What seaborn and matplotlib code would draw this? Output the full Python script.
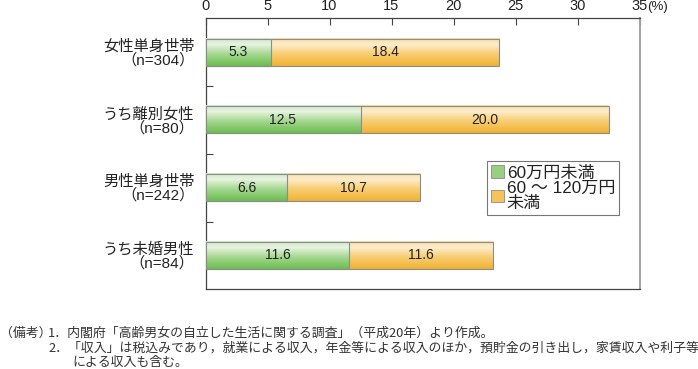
import numpy as np
import pandas as pd
import matplotlib
matplotlib.use("Agg")
import matplotlib.pyplot as plt
import seaborn as sns
from matplotlib.colors import LinearSegmentedColormap
from matplotlib.patches import Patch

# ---- data ----
groups = ["女性単身世帯", "うち離別女性", "男性単身世帯", "うち未婚男性"]
ns = ["304", "80", "242", "84"]
under60 = [5.3, 12.5, 6.6, 11.6]
from60to120 = [18.4, 20.0, 10.7, 11.6]
series_names = ["60万円未満", "60 ～ 120万円\n未満"]
xticks = [0, 5, 10, 15, 20, 25, 30, 35]
notes = [
    "（備考）",
    "1．内閣府「高齢男女の自立した生活に関する調査」（平成20年）より作成。",
    "2．「収入」は税込みであり，就業による収入，年金等による収入のほか，預貯金の引き出し，家賃収入や利子等",
    "による収入も含む。",
]

labels = [f"{g}\n（n={n}）" for g, n in zip(groups, ns)]
df = pd.DataFrame({
    "label": labels,
    "lo": under60,
    "total": [a + b for a, b in zip(under60, from60to120)],
})

sns.set_theme(style="white")
plt.rcParams["font.family"] = ["Liberation Sans", "Noto Sans CJK JP", "DejaVu Sans"]

fig = plt.figure(figsize=(6.98, 3.69), dpi=100)
ax = fig.add_axes([205.5 / 698, 1 - 289.3 / 369, (639.5 - 205.5) / 698, (289.3 - 18.3) / 369])

orange_mid = "#f6c25a"
green_mid = "#98d07f"
sns.barplot(data=df, x="total", y="label", orient="h", color=orange_mid, width=0.4,
            ax=ax, saturation=1)
n_or = len(ax.patches)
sns.barplot(data=df, x="lo", y="label", orient="h", color=green_mid, width=0.4,
            ax=ax, saturation=1)

green_cmap = LinearSegmentedColormap.from_list(
    "g", [(0, "#cfe7c3"), (0.22, "#e8f4e2"), (0.55, "#a9d994"), (1.0, "#6cbd50")])
orange_cmap = LinearSegmentedColormap.from_list(
    "o", [(0, "#f9dca3"), (0.22, "#fdedcd"), (0.55, "#f8cf77"), (1.0, "#f1b232")])
grad = np.linspace(0, 1, 64).reshape(-1, 1)

for i, p in enumerate(list(ax.patches)):
    x0, y0 = p.get_x(), p.get_y()
    w, h = p.get_width(), p.get_height()
    cmap = orange_cmap if i < n_or else green_cmap
    base = 2 if i < n_or else 4
    ax.imshow(grad, cmap=cmap, aspect="auto", extent=[x0, x0 + w, y0 + h, y0],
              zorder=base, interpolation="bilinear")
    p.set_facecolor("none")
    p.set_edgecolor("#8c8c8c")
    p.set_linewidth(0.8)
    p.set_zorder(base + 0.5)

# value labels
for i, (lo, hi) in enumerate(zip(under60, from60to120)):
    ax.text(lo / 2, i, f"{lo:.1f}", ha="center", va="center", fontsize=10,
            color="#222222", zorder=10)
    ax.text(lo + hi / 2, i, f"{hi:.1f}", ha="center", va="center", fontsize=10,
            color="#222222", zorder=10)

ax.set_xlim(0, 35)
ax.set_ylim(3.5, -0.5)
ax.set_xlabel("")
ax.set_ylabel("")

ax.xaxis.tick_top()
ax.set_xticks(xticks)
ax.set_xticklabels([str(t) for t in xticks])
ax.tick_params(axis="x", which="major", direction="in", length=5, width=0.8,
               color="#444444", pad=4, labelsize=10.5, labelcolor="#222222",
               top=True, bottom=False)
ax.tick_params(axis="y", which="major", length=0, pad=8, labelcolor="#222222")
for lab in ax.get_yticklabels():
    lab.set_fontsize(11)
    lab.set_linespacing(0.95)
    lab.set_ha("right")
ax.set_yticks([0.5, 1.5, 2.5], minor=True)
ax.tick_params(axis="y", which="minor", direction="in", length=5, width=0.8,
               color="#444444", left=True)

ax.annotate("(%)", xy=(35, 1), xycoords=("data", "axes fraction"),
            xytext=(5.5, 4), textcoords="offset points", ha="left", va="bottom",
            fontsize=9.5, color="#222222")

for s in ["left", "top", "bottom"]:
    ax.spines[s].set_color("#444444")
    ax.spines[s].set_linewidth(0.9)
ax.spines["right"].set_color("#a0a0a0")
ax.spines["right"].set_linewidth(1.4)

handles = [Patch(facecolor=green_mid, edgecolor="#8c8c8c", linewidth=0.6),
           Patch(facecolor=orange_mid, edgecolor="#8c8c8c", linewidth=0.6)]
leg = fig.legend(handles, series_names, loc="upper left",
                 bbox_to_anchor=(487 / 698, 1 - 161 / 369),
                 frameon=True, fancybox=False, framealpha=1, edgecolor="#777777",
                 fontsize=12.3, handlelength=0.75, handleheight=0.75,
                 handletextpad=0.15, borderpad=0.25, labelspacing=0.05,
                 borderaxespad=0)
leg.get_frame().set_linewidth(0.8)
for t in leg.get_texts():
    t.set_color("#222222")
    t.set_linespacing(0.95)

fs_note = 9.3
kw = dict(fontsize=fs_note, va="center", ha="left", family=["Noto Sans CJK JP"],
          color="#333333")
fig.text(0 / 698, 1 - 333.5 / 369, notes[0], **kw)
fig.text(48 / 698, 1 - 333.5 / 369, notes[1], **kw)
fig.text(48 / 698, 1 - 348.5 / 369, notes[2], **kw)
fig.text(72 / 698, 1 - 362.5 / 369, notes[3], **kw)

fig.savefig("out.png", dpi=100)
